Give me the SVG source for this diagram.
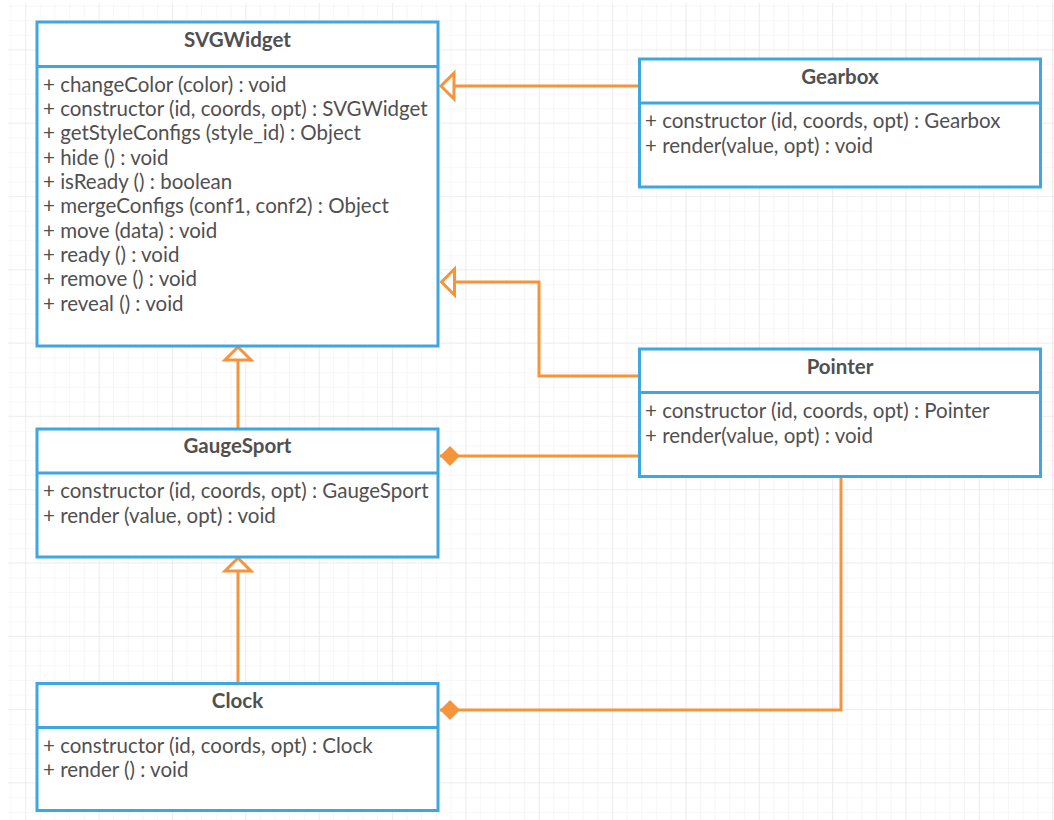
<svg xmlns="http://www.w3.org/2000/svg" width="1054" height="820" viewBox="0 0 1054 820">
<defs>
<pattern id="gridMinor" patternUnits="userSpaceOnUse" x="10.4" y="5.6" width="14.67" height="14.66">
<path d="M0,0 V14.66 M0,0 H14.67" fill="none" stroke="#f0f0f0" stroke-width="1.2"/>
</pattern>
<pattern id="gridMajor" patternUnits="userSpaceOnUse" x="25.4" y="49.3" width="73.35" height="73.3">
<path d="M0,0 V73.3 M0,0 H73.35" fill="none" stroke="#e6e6e6" stroke-width="1.2"/>
</pattern>
<marker id="tri" markerUnits="userSpaceOnUse" viewBox="-16 -16 20 32" refX="0" refY="0" markerWidth="20" markerHeight="32" orient="auto" overflow="visible">
<path d="M0,0 L-13,-13 L-13,13 Z" fill="#ffffff" stroke="#f5943a" stroke-width="3" stroke-linejoin="miter"/>
</marker>
<marker id="dia" markerUnits="userSpaceOnUse" viewBox="-22 -12 24 24" refX="0" refY="0" markerWidth="24" markerHeight="24" orient="auto" overflow="visible">
<path d="M0,0 L-10,-10 L-20,0 L-10,10 Z" fill="#f5943a"/>
</marker>
</defs>
<style>
.box{fill:#ffffff;stroke:#3fa7e0;stroke-width:3}
.div{stroke:#3fa7e0;stroke-width:3}
.title{font-family:Lato,"Liberation Sans",sans-serif;font-size:20.5px;font-weight:bold;fill:#505050;text-anchor:middle}
.m{font-family:Lato,"Liberation Sans",sans-serif;font-size:20.5px;fill:#505050}
.conn{fill:none;stroke:#f5943a;stroke-width:3}
</style>
<rect x="0" y="0" width="1054" height="820" fill="#ffffff"/>
<rect x="8" y="3" width="1046" height="817" fill="url(#gridMinor)"/>
<rect x="8" y="3" width="1046" height="817" fill="url(#gridMajor)"/>

<g id="connectors">
<path class="conn" d="M639,86 H441" marker-end="url(#tri)"/>
<path class="conn" d="M639,376 H539 V282 H441.5" marker-end="url(#tri)"/>
<path class="conn" d="M238,429 V347" marker-end="url(#tri)"/>
<path class="conn" d="M238,683 V558" marker-end="url(#tri)"/>
<path class="conn" d="M639,456 H440" marker-end="url(#dia)"/>
<path class="conn" d="M841,476 V710 H440" marker-end="url(#dia)"/>
</g>

<g id="SVGWidget">
<rect class="box" x="37" y="22" width="401" height="324"/>
<line class="div" x1="37" y1="66.5" x2="438" y2="66.5"/>
<text class="title" x="237.5" y="46.5">SVGWidget</text>
<text class="m" x="43" y="91.5">+ changeColor (color) : void</text>
<text class="m" x="43" y="115.8">+ constructor (id, coords, opt) : SVGWidget</text>
<text class="m" x="43" y="140.1">+ getStyleConfigs (style_id) : Object</text>
<text class="m" x="43" y="164.5">+ hide () : void</text>
<text class="m" x="43" y="188.8">+ isReady () : boolean</text>
<text class="m" x="43" y="213.1">+ mergeConfigs (conf1, conf2) : Object</text>
<text class="m" x="43" y="237.5">+ move (data) : void</text>
<text class="m" x="43" y="261.8">+ ready () : void</text>
<text class="m" x="43" y="286.1">+ remove () : void</text>
<text class="m" x="43" y="310.5">+ reveal () : void</text>
</g>

<g id="Gearbox">
<rect class="box" x="639.5" y="59" width="401" height="128"/>
<line class="div" x1="639.5" y1="103" x2="1040.5" y2="103"/>
<text class="title" x="840" y="83.5">Gearbox</text>
<text class="m" x="645" y="128">+ constructor (id, coords, opt) : Gearbox</text>
<text class="m" x="645" y="152.5">+ render(value, opt) : void</text>
</g>

<g id="Pointer">
<rect class="box" x="639.5" y="349" width="401" height="127.5"/>
<line class="div" x1="639.5" y1="392.5" x2="1040.5" y2="392.5"/>
<text class="title" x="840" y="373.5">Pointer</text>
<text class="m" x="645" y="418">+ constructor (id, coords, opt) : Pointer</text>
<text class="m" x="645" y="442.5">+ render(value, opt) : void</text>
</g>

<g id="GaugeSport">
<rect class="box" x="37" y="429" width="401" height="128"/>
<line class="div" x1="37" y1="473" x2="438" y2="473"/>
<text class="title" x="237.5" y="453">GaugeSport</text>
<text class="m" x="43" y="498">+ constructor (id, coords, opt) : GaugeSport</text>
<text class="m" x="43" y="522.5">+ render (value, opt) : void</text>
</g>

<g id="Clock">
<rect class="box" x="37" y="683.5" width="401" height="127"/>
<line class="div" x1="37" y1="727.5" x2="438" y2="727.5"/>
<text class="title" x="237.5" y="707.5">Clock</text>
<text class="m" x="43" y="752.5">+ constructor (id, coords, opt) : Clock</text>
<text class="m" x="43" y="777">+ render () : void</text>
</g>
</svg>
